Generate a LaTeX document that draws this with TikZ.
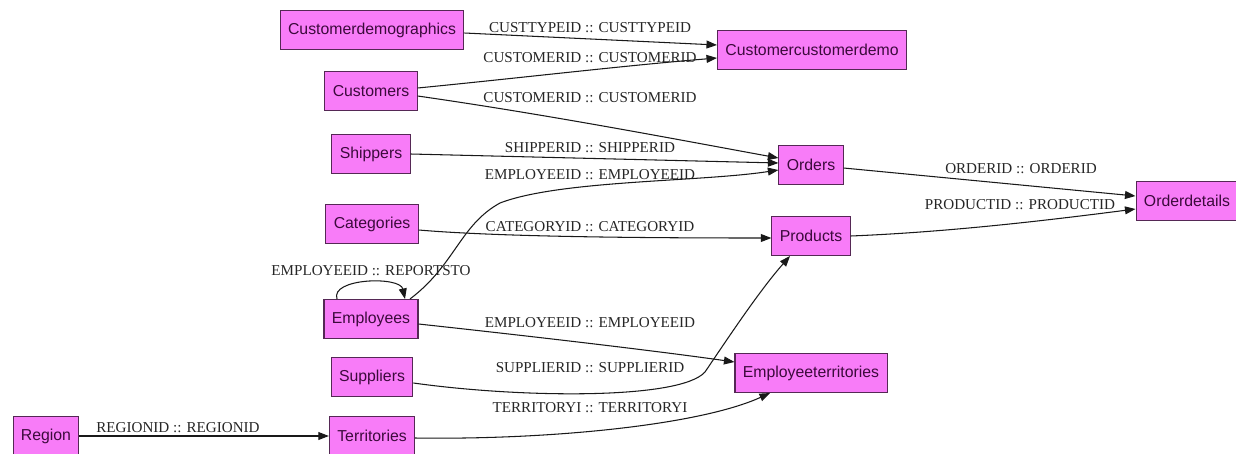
\documentclass[tikz,border=0pt]{standalone}
\usepackage{fontspec}
\setmainfont{Liberation Serif}
\setsansfont{Liberation Sans}
\usetikzlibrary{arrows.meta,positioning,calc}
\definecolor{tablepink}{RGB}{248,124,248}
\definecolor{tableedge}{RGB}{85,40,85}
\definecolor{tabletext}{RGB}{60,10,60}

\begin{document}
\begin{tikzpicture}[
    x=0.02cm, y=-0.02cm,
    tablebox/.style={rectangle, draw=tableedge, fill=tablepink, text=tabletext, font=\sffamily\fontsize{9}{11}\selectfont, minimum height=0.78cm, inner xsep=4.5pt, line width=0.6pt},
    arrow/.style={-{Triangle[length=6pt,width=4.5pt]}, line width=0.6pt, black!90},
    keylabel/.style={font=\fontsize{8.6}{10}\selectfont, text=black!85, inner sep=0pt}
]
\useasboundingbox (0,0) rectangle (1236,453);

% left column
\node[tablebox] (cdemo) at (372,30) {Customerdemographics};
\node[tablebox] (cust) at (371,91) {Customers};
\node[tablebox] (ship) at (371,154) {Shippers};
\node[tablebox] (cat) at (372,224) {Categories};
\node[tablebox] (emp) at (371,319) {Employees};
\node[tablebox] (supp) at (372,377) {Suppliers};
\node[tablebox] (terr) at (372,436) {Territories};
\node[tablebox] (region) at (46,436) {Region};

% middle column
\node[tablebox] (ccd) at (812,50) {Customercustomerdemo};
\node[tablebox] (orders) at (811,165) {Orders};
\node[tablebox] (prod) at (811,236) {Products};
\node[tablebox] (empterr) at (811,373) {Employeeterritories};

% right column
\node[tablebox] (odet) at (1187,201) {Orderdetails};

% relations
\draw[arrow] ($(cdemo.east)+(0,3)$) -- ($(ccd.west)+(0,-5)$);
\draw[arrow] ($(cust.east)+(0,-3)$) .. controls (520,78) and (620,66) .. ($(ccd.west)+(0,8)$);
\draw[arrow] ($(cust.east)+(0,5)$) .. controls (550,115) and (680,140) .. ($(orders.west)+(0,-7)$);
\draw[arrow] (ship.east) -- ($(orders.west)+(0,-2)$);
\draw[arrow] ($(emp.north)+(39,0)$) .. controls (455,265) and (460,225) .. (500,203)
    .. controls (560,180) and (700,182) .. ($(orders.west)+(0,5)$);
\draw[arrow] ($(cat.east)+(0,6)$) .. controls (500,237) and (650,238) .. ($(prod.west)+(0,2)$);
\draw[arrow] ($(emp.north)+(-34,0)$) .. controls (330,278) and (400,276) .. ($(emp.north)+(34,0)$);
\draw[arrow] ($(emp.east)+(0,5)$) .. controls (520,335) and (650,350) .. ($(empterr.west)+(0,-11)$);
\draw[arrow] ($(supp.east)+(0,6)$) .. controls (520,398) and (680,400) .. (705,372)
    .. controls (730,335) and (760,290) .. ($(prod.south)+(-21,0)$);
\draw[arrow] ($(terr.east)+(0,2)$) .. controls (550,440) and (700,425) .. ($(empterr.south)+(-41,0)$);
\draw[arrow] (region) -- (terr);
\draw[arrow] ($(orders.east)+(0,3)$) -- ($(odet.west)+(0,-5)$);
\draw[arrow] (prod.east) .. controls (950,232) and (1050,220) .. ($(odet.west)+(0,8)$);

% key labels
\node[keylabel] (l1) at (590,28) {CUSTTYPEID :: CUSTTYPEID};
\node[keylabel] (l2) at (590,58) {CUSTOMERID :: CUSTOMERID};
\node[keylabel] (l3) at (590,98) {CUSTOMERID :: CUSTOMERID};
\node[keylabel] (l4) at (590,148) {SHIPPERID :: SHIPPERID};
\node[keylabel] (l5) at (590,175) {EMPLOYEEID :: EMPLOYEEID};
\node[keylabel] (l6) at (590,227) {CATEGORYID :: CATEGORYID};
\node[keylabel] (l7) at (371,271) {EMPLOYEEID :: REPORTSTO};
\node[keylabel] (l8) at (590,323) {EMPLOYEEID :: EMPLOYEEID};
\node[keylabel] (l9) at (590,368) {SUPPLIERID :: SUPPLIERID};
\node[keylabel] (l10) at (590,408) {TERRITORYI :: TERRITORYI};
\node[keylabel] (l11) at (178,428) {REGIONID :: REGIONID};
\node[keylabel] (l12) at (1021,169) {ORDERID :: ORDERID};
\node[keylabel] (l13) at (1020,205) {PRODUCTID :: PRODUCTID};

\end{tikzpicture}
\end{document}
